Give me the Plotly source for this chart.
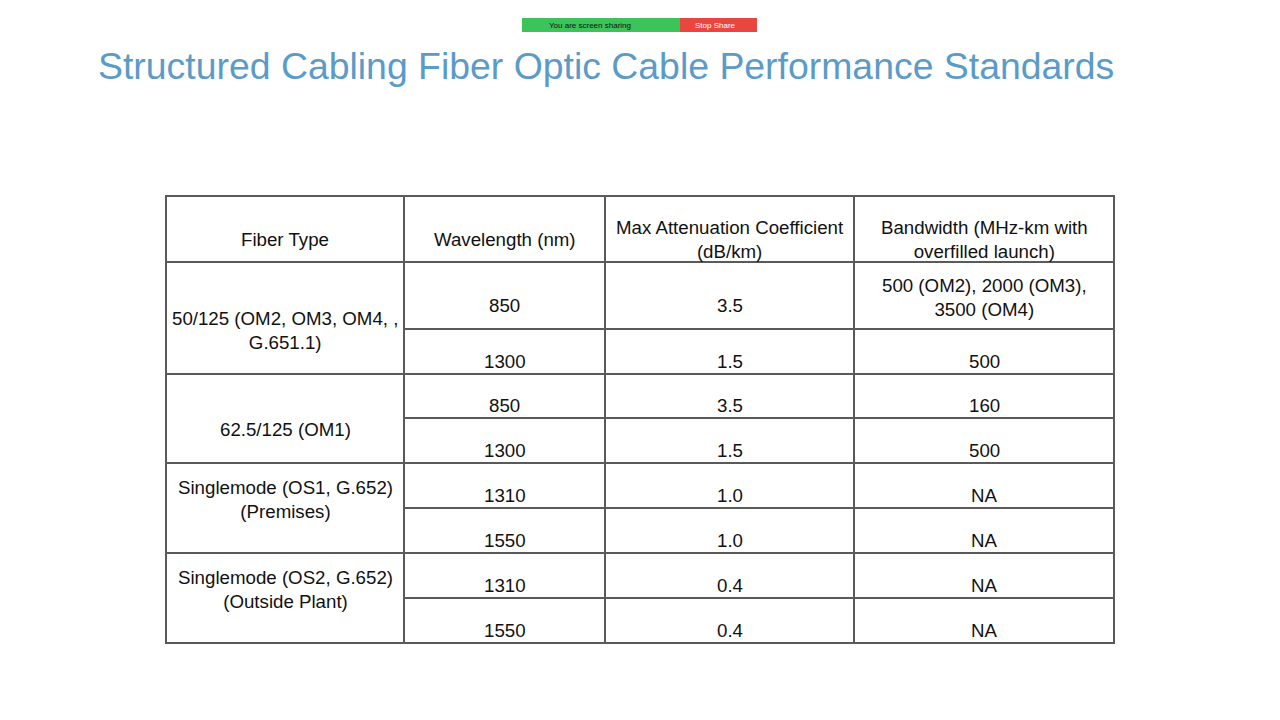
import plotly.graph_objects as go

title = "Structured Cabling Fiber Optic Cable Performance Standards"
headers = ["Fiber Type", "Wavelength (nm)", "Max Attenuation Coefficient<br>(dB/km)",
           "Bandwidth (MHz-km with<br>overfilled launch)"]
fiber_types = ["50/125 (OM2, OM3, OM4, ,<br>G.651.1)", "62.5/125 (OM1)",
               "Singlemode (OS1, G.652)<br>(Premises)", "Singlemode (OS2, G.652)<br>(Outside Plant)"]
wavelengths = ["850", "1300", "850", "1300", "1310", "1550", "1310", "1550"]
attenuation = ["3.5", "1.5", "3.5", "1.5", "1.0", "1.0", "0.4", "0.4"]
bandwidth = ["500 (OM2), 2000 (OM3),<br>3500 (OM4)", "500", "160", "500", "NA", "NA", "NA", "NA"]

col_x = [166, 404, 605, 854, 1114]
row_y = [196, 262, 329, 374, 418, 463, 508, 553, 598, 643]
group_rows = [(1, 3), (3, 5), (5, 7), (7, 9)]
group_text_y = [330, 429, 499, 589]

FONT = "Liberation Sans, Arial, sans-serif"
FS = 18.7
LINE = "#5a5a5a"
fig = go.Figure()
shapes, ann = [], []

def cell(x0, x1, y0, y1):
    shapes.append(dict(type="rect", xref="x", yref="y", x0=x0, x1=x1, y0=y0, y1=y1,
                       line=dict(color=LINE, width=2), fillcolor="rgba(0,0,0,0)"))

for i, h in enumerate(headers):
    cell(col_x[i], col_x[i+1], row_y[0], row_y[1])
    ann.append(dict(x=(col_x[i]+col_x[i+1])/2, y=239 if "<br>" not in h else 239, text=h,
                    xref="x", yref="y", showarrow=False,
                    font=dict(size=FS, color="#111", family=FONT)))
for g, (a, b) in enumerate(group_rows):
    cell(col_x[0], col_x[1], row_y[a], row_y[b])
    ann.append(dict(x=(col_x[0]+col_x[1])/2, y=group_text_y[g], text=fiber_types[g],
                    xref="x", yref="y", showarrow=False,
                    font=dict(size=FS, color="#111", family=FONT)))
for r in range(8):
    y0, y1 = row_y[r+1], row_y[r+2]
    vals = [wavelengths[r], attenuation[r], bandwidth[r]]
    for c, v in enumerate(vals):
        cell(col_x[c+1], col_x[c+2], y0, y1)
        if "<br>" in v:
            ty = (y0 + y1) / 2 + 2
        elif r == 0:
            ty = y1 - 24
        else:
            ty = y1 - 13
        ann.append(dict(x=(col_x[c+1]+col_x[c+2])/2, y=ty, text=v, xref="x", yref="y",
                        showarrow=False, font=dict(size=FS, color="#111", family=FONT)))

ann.append(dict(x=96, y=66, text=title, xref="x", yref="y", xanchor="left", showarrow=False,
                font=dict(size=37.4, color="#5b9bc8", family=FONT)))
shapes.append(dict(type="rect", xref="x", yref="y", x0=522, x1=680, y0=18, y1=32,
                   fillcolor="#3cc35a", line=dict(width=0)))
shapes.append(dict(type="rect", xref="x", yref="y", x0=680, x1=757, y0=18, y1=32,
                   fillcolor="#e8463f", line=dict(width=0)))
ann.append(dict(x=590, y=25, text="You are screen sharing", xref="x", yref="y", showarrow=False,
                font=dict(size=8, color="#111", family=FONT)))
ann.append(dict(x=715, y=25, text="Stop Share", xref="x", yref="y", showarrow=False,
                font=dict(size=8, color="white", family=FONT)))

fig.update_layout(width=1280, height=720, margin=dict(l=0, r=0, t=0, b=0),
                  paper_bgcolor="white", plot_bgcolor="white",
                  shapes=shapes, annotations=ann, showlegend=False,
                  xaxis=dict(range=[8, 1288], visible=False, fixedrange=True),
                  yaxis=dict(range=[728, 8], visible=False, fixedrange=True))
fig.write_html("out.html", config={"displayModeBar": False})
